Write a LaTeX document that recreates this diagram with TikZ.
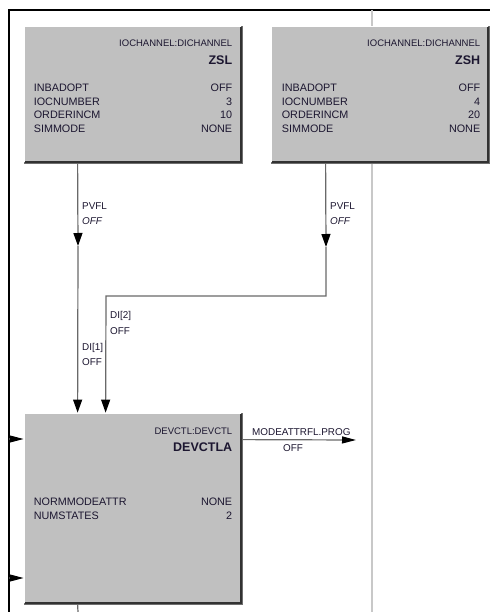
\documentclass[tikz,border=0pt]{standalone}
\usepackage{fontspec}
\setmainfont{Liberation Sans}
\usetikzlibrary{arrows.meta,positioning,calc}
\definecolor{blockgray}{RGB}{192,192,192}
\definecolor{edgegray}{RGB}{110,110,110}
\definecolor{shadegray}{RGB}{50,50,50}
\definecolor{wiregray}{RGB}{105,105,105}
\definecolor{rulegray}{RGB}{200,200,200}
\definecolor{inktext}{RGB}{28,22,48}

\begin{document}
\begin{tikzpicture}[x=1pt,y=-1pt,
  block/.style={draw=edgegray,line width=0.8pt,fill=blockgray,minimum width=218pt,minimum height=#1,inner sep=0pt},
  hdr/.style={font=\fontsize{9.5}{11}\selectfont,text=inktext,inner sep=0pt,anchor=base east},
  tag/.style={font=\fontsize{12.5}{14}\selectfont\bfseries,text=inktext,inner sep=0pt,anchor=base east},
  attr/.style={font=\fontsize{10.8}{13}\selectfont,text=inktext,inner sep=0pt},
  pin/.style={font=\fontsize{9.9}{11}\selectfont,text=inktext,inner sep=0pt,anchor=base west},
  pinval/.style={pin,font=\fontsize{9.9}{11}\selectfont\itshape},
  wire/.style={draw=wiregray,line width=1.2pt},
  vtip/.style={-{Triangle[length=13pt,width=9pt,color=black]}},
  htip/.style={-{Triangle[length=14pt,width=7pt,color=black]}}
]
  \useasboundingbox (0,0) rectangle (490,612);

  % sheet frame and column rule
  \draw[black,line width=1.8pt] (9,612) -- (9,10) -- (490,10);
  \draw[rulegray,line width=1.2pt] (372,10) -- (372,612);

  % function blocks
  \node[block=137pt] (zsl) at (133,94.5) {};
  \node[block=137pt] (zsh) at (380,94.5) {};
  \node[block=191pt] (dev) at (133,508.5) {};

  \foreach \b in {zsl,zsh,dev} {
    \draw[white,line width=1pt] ($(\b.south west)+(1.2,-1.2)$) -- ($(\b.north west)+(1.2,1.2)$) -- ($(\b.north east)+(-1.2,1.2)$);
    \draw[shadegray,line width=1.6pt] ($(\b.north east)+(-1.2,1.2)$) -- ($(\b.south east)+(-1.2,-1.2)$) -- ($(\b.south west)+(1.2,-1.2)$);
  }

  % block texts
  \node[hdr] (zsl-type) at ($(zsl.north east)+(-10,21)$) {IOCHANNEL:DICHANNEL};
  \node[tag] (zsl-name) at ($(zsl.north east)+(-10,39)$) {ZSL};
  \foreach \k/\v [count=\i from 0] in {INBADOPT/OFF,IOCNUMBER/3,ORDERINCM/10,SIMMODE/NONE} {
    \node[attr,anchor=base west] (zsl-k\i) at ($(zsl.north west)+(10,66+13.6*\i)$) {\k};
    \node[attr,anchor=base east] (zsl-v\i) at ($(zsl.north east)+(-10,66+13.6*\i)$) {\v};
  }

  \node[hdr] (zsh-type) at ($(zsh.north east)+(-9,21)$) {IOCHANNEL:DICHANNEL};
  \node[tag] (zsh-name) at ($(zsh.north east)+(-9,39)$) {ZSH};
  \foreach \k/\v [count=\i from 0] in {INBADOPT/OFF,IOCNUMBER/4,ORDERINCM/20,SIMMODE/NONE} {
    \node[attr,anchor=base west] (zsh-k\i) at ($(zsh.north west)+(11,66+13.6*\i)$) {\k};
    \node[attr,anchor=base east] (zsh-v\i) at ($(zsh.north east)+(-9,66+13.6*\i)$) {\v};
  }

  \node[hdr] (dev-type) at ($(dev.north east)+(-10,22)$) {DEVCTL:DEVCTL};
  \node[tag] (dev-name) at ($(dev.north east)+(-10,39)$) {DEVCTLA};
  \foreach \k/\v [count=\i from 0] in {NORMMODEATTR/NONE,NUMSTATES/2} {
    \node[attr,anchor=base west] (dev-k\i) at ($(dev.north west)+(10,93+14*\i)$) {\k};
    \node[attr,anchor=base east] (dev-v\i) at ($(dev.north east)+(-10,93+14*\i)$) {\v};
  }

  % connection points
  \coordinate (zslout) at ($(zsl.south west)+(54,0)$);
  \coordinate (zshout) at ($(zsh.south west)+(55,0)$);
  \coordinate (tipL) at (78,246);
  \coordinate (tipR) at (326,247);
  \coordinate (bendR) at (326,296);
  \coordinate (bendL) at (106,296);
  \coordinate (di1) at ($(dev.north west)+(54,0)$);
  \coordinate (di2) at ($(dev.north west)+(82,0)$);
  \coordinate (inA) at (9,439);
  \coordinate (inB) at (9,578);
  \coordinate (modeout) at ($(dev.north east)+(0,27)$);
  \coordinate (modeend) at (356,440);
  \coordinate (devout) at ($(dev.south west)+(54,0)$);

  % wires
  \draw[wire,vtip] (zslout) -- (tipL);
  \draw[wire,vtip] (tipL) -- (di1);
  \draw[wire,vtip] (zshout) -- (tipR);
  \draw[wire,vtip] (tipR) -- (bendR) -- (bendL) -- (di2);
  \draw[wire,htip] (inA) -- (inA -| dev.west);
  \draw[wire,htip] (inB) -- (inB -| dev.west);
  \draw[wire,htip] (modeout) -- (modeend);
  \draw[wire] (devout) -- (78,612);

  % pin labels
  \node[pin] (pvfl-l) at (82,209) {PVFL};
  \node[pinval] (pvfl-lv) at (82,225) {OFF};
  \node[pin] (pvfl-r) at (330,209) {PVFL};
  \node[pinval] (pvfl-rv) at (330,225) {OFF};
  \node[pin] (di2-l) at (110,318) {DI[2]};
  \node[pin] (di2-v) at (110,334) {OFF};
  \node[pin] (di1-l) at (82,350) {DI[1]};
  \node[pin] (di1-v) at (82,365) {OFF};
  \node[pin] (mode-l) at (252,435) {MODEATTRFL.PROG};
  \node[pin] (mode-v) at (283,451) {OFF};
\end{tikzpicture}
\end{document}
